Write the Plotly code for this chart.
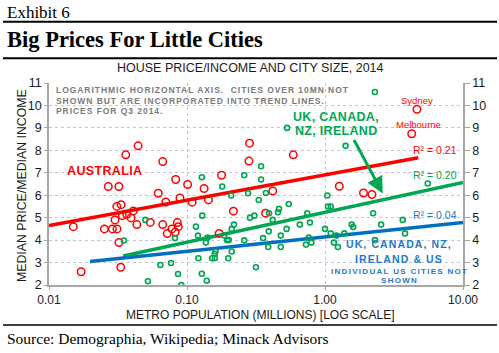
import math
import plotly.graph_objects as go

# ---------------- data ----------------
aus_pop = [0.036, 0.0442, 0.0667, 0.0828, 0.101, 0.284, 0.589, 0.281, 0.178, 4.64, 4.25,
           1.27, 1.90, 2.19, 0.418, 0.0269, 0.0321, 0.0619, 0.0702, 0.0889, 0.0310, 0.0333,
           0.0408, 0.0340, 0.0366, 0.0393, 0.0301, 0.0433, 0.0150, 0.0542, 0.0667, 0.0851,
           0.0865, 0.0252, 0.0288, 0.0311, 0.0778, 0.0822, 0.0719, 0.0321, 0.0331, 0.0171,
           0.133, 0.109, 0.143, 0.371, 0.217, 0.171]
aus_ratio = [7.80, 8.20, 7.50, 6.70, 6.48, 8.32, 7.80, 7.52, 6.89, 9.83, 8.74,
             6.40, 6.10, 6.03, 6.19, 6.39, 6.39, 6.09, 5.70, 5.88, 5.50, 5.58,
             5.30, 5.09, 5.15, 4.99, 4.90, 4.69, 4.60, 4.79, 4.69, 4.78,
             4.60, 4.50, 4.50, 4.50, 4.50, 4.36, 4.29, 3.89, 2.79, 2.59,
             6.30, 5.69, 5.79, 5.20, 5.29, 4.30]

ukc_pop = [0.531, 2.30, 1.41, 5.55, 0.344, 0.260, 0.128, 0.344, 1.04, 0.373, 0.546,
           0.180, 0.209, 0.277, 0.331, 0.464, 0.456, 0.393, 0.129, 0.308, 0.286, 0.418,
           0.744, 0.778, 0.656, 0.527, 0.116, 0.219, 0.211, 0.391, 1.00, 0.120, 0.141,
           0.186, 0.195, 0.201, 0.137, 0.260, 0.356, 0.478, 0.762, 0.796, 0.728, 0.388,
           0.478, 0.211, 0.161, 0.159, 0.121, 0.152, 0.159, 0.199, 0.316, 0.128, 0.139,
           0.0499, 0.0349, 0.0818, 0.0641, 0.0766, 0.0861, 0.0521, 0.091, 1.05, 1.10,
           2.23, 3.66, 1.56, 1.60, 2.55, 1.10, 1.38, 3.80, 1.21, 2.30, 1.16, 1.24]
ukc_ratio = [9.00, 10.60, 8.20, 6.52, 7.29, 6.89, 6.80, 6.70, 5.99, 6.10, 5.61,
             6.39, 5.99, 6.09, 5.79, 5.39, 5.24, 5.20, 5.09, 5.09, 5.00, 4.90,
             5.20, 4.78, 4.69, 4.50, 4.60, 4.69, 4.50, 4.39, 4.50, 4.20, 4.11,
             4.20, 4.00, 4.00, 3.89, 3.99, 4.09, 4.20, 4.11, 3.89, 3.80, 3.69,
             3.69, 3.49, 3.49, 3.38, 3.19, 3.19, 3.19, 3.19, 2.79, 2.50, 2.19,
             4.90, 3.98, 4.09, 2.89, 2.98, 2.49, 2.17, 2.00, 5.50, 5.50,
             5.20, 4.90, 4.69, 4.58, 4.69, 4.30, 4.30, 4.30, 4.20, 4.00, 3.89, 3.69]

# trend lines (end points)
aus_trend_x = [0.01, 4.74]
aus_trend_y = [4.65, 7.67]
ukc_trend_x = [0.0345, 10.0]
ukc_trend_y = [3.29, 6.57]
all_trend_x = [0.0198, 10.0]
all_trend_y = [3.05, 4.78]

city_labels = [("Sydney", 4.64, 9.83), ("Melbourne", 4.25, 8.74)]
r2_labels = [("R² = 0.21", "#FF0000", 8.01), ("R² = 0.20", "#00A651", 6.92), ("R² = 0.04", "#1F78C8", 5.14)]

x_tickvals = [0.01, 0.1, 1, 10]
x_ticktext = ["0.01", "0.10", "1.00", "10.00"]
y_ticks = list(range(2, 12))

RED = "#FF0000"
GREEN = "#00A651"
BLUE = "#1F78C8"
SANS = "Liberation Sans, Arial, sans-serif"
SERIF = "Liberation Serif, Times New Roman, serif"

W, H = 499, 353
L, R, T, B = 49, 463, 83, 285


def PX(px):
    return (px - L) / (R - L)


def PY(py):
    return (B - py) / (B - T)


fig = go.Figure()
fig.add_trace(go.Scatter(x=aus_trend_x, y=aus_trend_y, mode="lines",
                         line=dict(color=RED, width=3.5), hoverinfo="skip"))
fig.add_trace(go.Scatter(x=ukc_trend_x, y=ukc_trend_y, mode="lines",
                         line=dict(color=GREEN, width=3.5), hoverinfo="skip"))
fig.add_trace(go.Scatter(x=all_trend_x, y=all_trend_y, mode="lines",
                         line=dict(color="#0070C0", width=3.5), hoverinfo="skip"))
fig.add_trace(go.Scatter(x=aus_pop, y=aus_ratio, mode="markers",
                         marker=dict(symbol="circle-open", size=7.5, color=RED,
                                     line=dict(width=1.5, color=RED))))
fig.add_trace(go.Scatter(x=ukc_pop, y=ukc_ratio, mode="markers",
                         marker=dict(symbol="circle-open", size=5, color=GREEN,
                                     line=dict(width=1.6, color=GREEN))))
# right-hand axis companion
fig.add_trace(go.Scatter(x=[None], y=[None], yaxis="y2", mode="markers",
                         hoverinfo="skip", showlegend=False))

ann = []


def txt(text, px, py, size, color, bold=False, xanchor="center", family=SANS,
        ls=None, textangle=0, yanchor="middle"):
    t = text
    if ls is not None:
        t = f'<span style="letter-spacing:{ls}px">{t}</span>'
    if bold:
        t = f"<b>{t}</b>"
    ann.append(dict(text=t, x=PX(px), y=PY(py), xref="paper", yref="paper",
                    xanchor=xanchor, yanchor=yanchor, showarrow=False,
                    textangle=textangle,
                    font=dict(family=family, size=size, color=color)))


# header / footer
txt("Exhibit 6", 5, 13, 17, "#000000", family=SERIF, xanchor="left")
txt("Big Prices For Little Cities", 5, 39.5, 22.5, "#000000", bold=True, family=SERIF, xanchor="left")
txt("Source: Demographia, Wikipedia; Minack Advisors", 5, 338, 15.5, "#000000", family=SERIF, xanchor="left")
txt("HOUSE PRICE/INCOME AND CITY SIZE, 2014", 250, 68.5, 12.5, "#1a1a1a")
txt("METRO POPULATION (MILLIONS) [LOG SCALE]", 260, 315, 12, "#1a1a1a")
txt("MEDIAN PRICE/MEDIAN INCOME", 22, 186, 12.3, "#1a1a1a", textangle=-90)

# notes in the plot
note = ["LOGARITHMIC HORIZONTAL AXIS.  CITIES OVER 10MN NOT",
        "SHOWN BUT ARE INCORPORATED INTO TREND LINES.",
        "PRICES FOR Q3 2014."]
for i, line in enumerate(note):
    txt(line.replace("  ", "&nbsp; "), 54, 90 + i * 10.6, 8.5, "#7a7a7a", bold=True,
        xanchor="left", ls=0.95)

txt("AUSTRALIA", 104.5, 170.5, 12.5, RED, bold=True, ls=0.35)
txt("UK, CANADA,", 336, 117, 12.5, GREEN, bold=True, ls=0.3)
txt("NZ, IRELAND", 336, 130.5, 12.5, GREEN, bold=True, ls=0.3)
txt("UK, CANADA, NZ,", 398.5, 243.5, 10.5, BLUE, bold=True, ls=1.1)
txt("IRELAND &amp; US", 398.5, 258.5, 10.5, BLUE, bold=True, ls=1.1)
txt("INDIVIDUAL US CITIES NOT", 399, 271, 8, BLUE, bold=True, ls=1.3)
txt("SHOWN", 399, 280.5, 8, BLUE, bold=True, ls=1.3)

for (name, xv, yv), dx in zip(city_labels, [0, 7]):
    ann.append(dict(text=name, x=math.log10(xv), y=yv, xref="x", yref="y",
                    yshift=9, xshift=dx, showarrow=False, yanchor="middle",
                    font=dict(family=SANS, size=9.5, color=RED)))
for lab, col, yv in r2_labels:
    ann.append(dict(text=lab, x=math.log10(6.3), y=yv, xref="x", yref="y",
                    showarrow=False, font=dict(family=SANS, size=10.5, color=col)))

# green arrow
ann.append(dict(text="", x=0.418, y=6.08, xref="x", yref="y", showarrow=True,
                ax=-29.4, ay=-55, axref="pixel", ayref="pixel", arrowhead=2,
                arrowsize=1.1, arrowwidth=3, arrowcolor=GREEN, standoff=0))

shapes = []
for py, w in [(21.7, 2), (58.3, 2), (325, 1.5)]:
    shapes.append(dict(type="line", xref="paper", yref="paper", x0=PX(3), x1=PX(497),
                       y0=PY(py), y1=PY(py), line=dict(color="#000000", width=w)))

grid = dict(gridcolor="#C8C2E2", griddash="dot", gridwidth=1)
axis_line = dict(showline=True, linecolor="#A6A6A6", linewidth=1.5, zeroline=False,
                 ticks="outside", tickcolor="#A6A6A6")
tf = dict(family=SANS, size=12.5, color="#1a1a1a")

fig.update_layout(
    width=W, height=H, autosize=False,
    margin=dict(l=L, r=W - R, t=T, b=H - B, pad=0),
    paper_bgcolor="white", plot_bgcolor="white",
    showlegend=False,
    xaxis=dict(type="log", range=[-2, 1], tickvals=x_tickvals, ticktext=x_ticktext,
               showgrid=True, ticklen=3, tickfont=dict(family=SANS, size=12, color="#1a1a1a"),
               **grid, **axis_line),
    yaxis=dict(range=[2, 11], tickvals=y_ticks, showgrid=True, ticklen=3, tickfont=tf,
               **grid, **axis_line),
    yaxis2=dict(range=[2, 11], tickvals=y_ticks, overlaying="y", side="right",
                showgrid=False, ticklen=5, tickfont=tf, **axis_line),
    annotations=ann,
    shapes=shapes,
)

fig.write_html("out.html")
